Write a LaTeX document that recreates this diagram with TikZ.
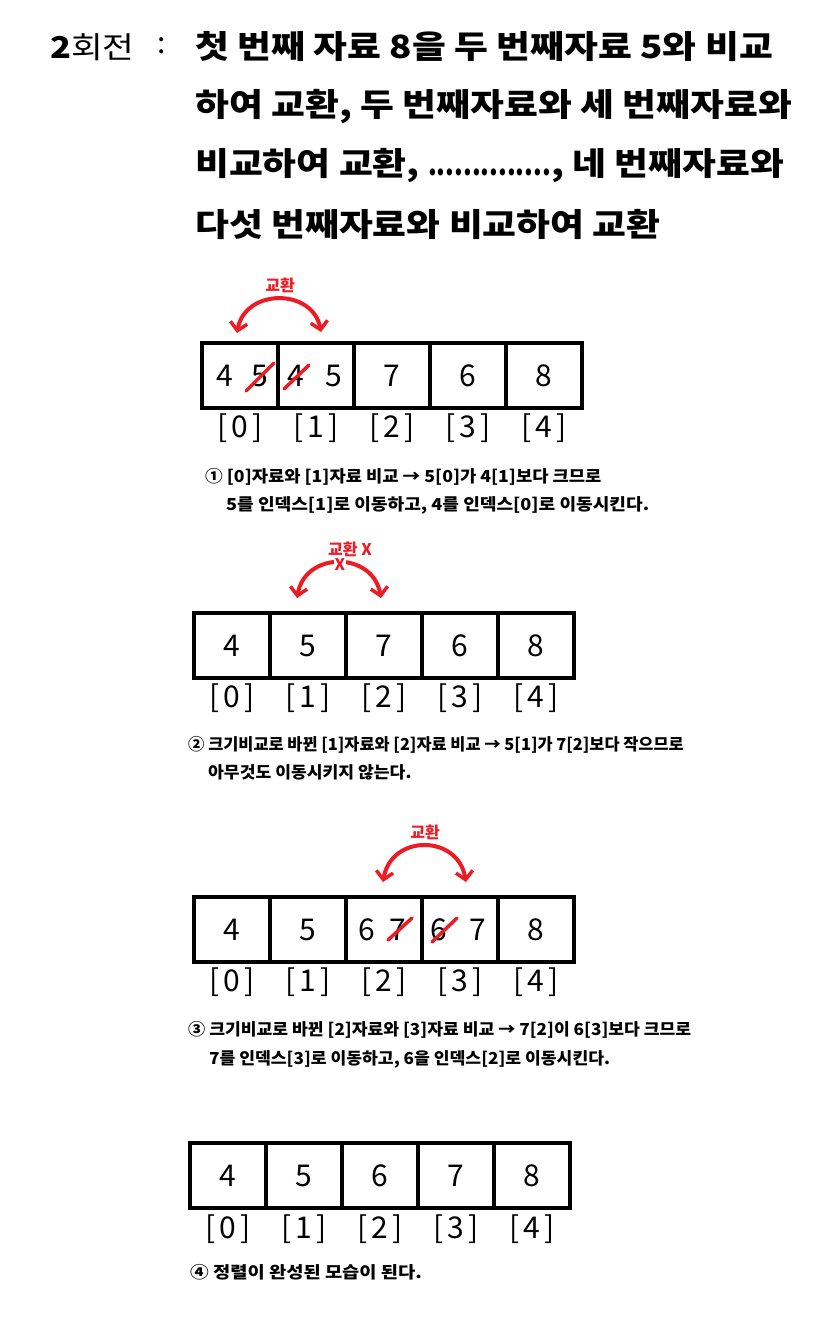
\documentclass[tikz,border=0pt]{standalone}
\usepackage{fontspec}
\setmainfont{Noto Sans CJK KR}
\newfontfamily\headfont[FakeStretch=1.15]{Noto Sans CJK KR}
\newfontfamily\notefont[FakeStretch=1.04]{Noto Sans CJK KR}
\usetikzlibrary{arrows.meta,calc}
\definecolor{swapred}{RGB}{237,28,36}
\tikzset{
  cell/.style={draw=black, line width=3.5pt, minimum width=76pt, minimum height=65pt,
    inner sep=0pt, outer sep=0pt, font=\fontsize{30}{30}\selectfont},
  digit/.style={inner sep=0pt, minimum width=26pt, minimum height=24pt,
    font=\fontsize{30}{30}\selectfont},
  idx/.style={inner sep=0pt, font=\fontsize{30}{30}\selectfont},
  strike/.style={draw=swapred, line width=3.5pt, line cap=round},
  barb/.tip={Straight Barb[length=8pt,width=17pt,line width=3.5pt]},
  swaparrow/.style={draw=swapred, line width=4pt, barb-barb},
  swaplabel/.style={text=swapred, inner sep=0.5pt, font=\bfseries\fontsize{16}{16}\selectfont},
  headline/.style={anchor=west, inner sep=0pt, font=\headfont\bfseries\fontsize{32}{32}\selectfont},
  note/.style={anchor=west, inner sep=0pt, font=\notefont\bfseries\fontsize{16.5}{17}\selectfont},
}
\newcommand{\idxtext}[1]{[\hspace{4.5pt}#1\hspace{4.5pt}]}
\begin{document}
\begin{tikzpicture}[x=1pt,y=-1pt]
\fill[white] (0,0) rectangle (814,1331);
\useasboundingbox (0,0) rectangle (814,1331);

% ---------- header ----------
\node[anchor=west, inner sep=0pt, font=\headfont\fontsize{30}{30}\selectfont] (round) at (50,47) {{\bfseries 2}회전};
\node[inner sep=0pt, font=\fontsize{30}{30}\selectfont] (colon) at (162,46) {:};
\node[headline] (h1) at (195,47) {첫 번째 자료 8을 두 번째자료 5와 비교};
\node[headline] (h2) at (195,107) {하여 교환, 두 번째자료와 세 번째자료와};
\node[headline] (h3) at (195,166) {비교하여 교환, \scalebox{0.68}[1]{..............}, 네 번째자료와};
\node[headline] (h4) at (195,224) {다섯 번째자료와 비교하여 교환};

% ---------- array 1 ----------
\foreach \i/\x/\v in {0/240/{},1/316/{},2/392/7,3/468/6,4/544/8}{
  \node[cell] (a1c\i) at (\x,375.5) {\v};
  \node[idx] (a1i\i) at (\x,428) {\idxtext{\i}};
}
\node[digit] (a1d0a) at (225,376) {4};
\node[digit] (a1d0b) at (260,376) {5};
\node[digit] (a1d1a) at (296,376) {4};
\node[digit] (a1d1b) at (334,376) {5};
\draw[strike] ($(a1d0b)+(-14,15)$) -- ($(a1d0b)+(14,-13)$);
\draw[strike] ($(a1d1a)+(-12,13)$) -- ($(a1d1a)+(13,-11)$);
\coordinate (s1l) at (237,333);
\coordinate (s1r) at (321,332);
\draw[swaparrow] (s1l) .. controls (245,288) and (313,288) .. (s1r);
\node[swaplabel] (t1) at (280,285) {교환};
\node[note] (n1a) at (205,477) {\scalebox{1.03}[1]{① [0]자료와 [1]자료 비교 → 5[0]가 4[1]보다 크므로}};
\node[note] (n1b) at (226,505) {\scalebox{1.055}[1]{5를 인덱스[1]로 이동하고, 4를 인덱스[0]로 이동시킨다.}};

% ---------- array 2 ----------
\foreach \i/\x/\v in {0/232/4,1/308/5,2/384/7,3/460/6,4/536/8}{
  \node[cell] (a2c\i) at (\x,645.5) {\v};
  \node[idx] (a2i\i) at (\x,698) {\idxtext{\i}};
}
\coordinate (s2l) at (297,598);
\coordinate (s2r) at (381,598);
\draw[swaparrow] (s2l) .. controls (305,551) and (373,551) .. (s2r);
\node[swaplabel, fill=white] (x2) at (340,565) {X};
\node[swaplabel] (t2) at (350,549) {교환 X};
\node[note] (n2a) at (188,745) {\scalebox{0.955}[1]{② 크기비교로 바뀐 [1]자료와 [2]자료 비교 → 5[1]가 7[2]보다 작으므로}};
\node[note] (n2b) at (208,772) {아무것도 이동시키지 않는다.};

% ---------- array 3 ----------
\foreach \i/\x/\v in {0/232/4,1/308/5,2/384/{},3/460/{},4/536/8}{
  \node[cell] (a3c\i) at (\x,929.5) {\v};
  \node[idx] (a3i\i) at (\x,982) {\idxtext{\i}};
}
\node[digit] (a3d2a) at (367,930) {6};
\node[digit] (a3d2b) at (398,930) {7};
\node[digit] (a3d3a) at (439,930) {6};
\node[digit] (a3d3b) at (478,930) {7};
\draw[strike] ($(a3d2b)+(-10,10)$) -- ($(a3d2b)+(14,-12)$);
\draw[strike] ($(a3d3a)+(-7,12)$) -- ($(a3d3a)+(18,-12)$);
\coordinate (s3l) at (383,882);
\coordinate (s3r) at (466,882);
\draw[swaparrow] (s3l) .. controls (391,834) and (458,834) .. (s3r);
\node[swaplabel] (t3) at (425,832) {교환};
\node[note] (n3a) at (188,1030) {③ 크기비교로 바뀐 [2]자료와 [3]자료 비교 → 7[2]이 6[3]보다 크므로};
\node[note] (n3b) at (209,1059) {7를 인덱스[3]로 이동하고, 6을 인덱스[2]로 이동시킨다.};

% ---------- array 4 ----------
\foreach \i/\x/\v in {0/228/4,1/304/5,2/380/6,3/456/7,4/532/8}{
  \node[cell] (a4c\i) at (\x,1175.5) {\v};
  \node[idx] (a4i\i) at (\x,1229) {\idxtext{\i}};
}
\node[note] (n4) at (190,1272) {\scalebox{1.09}[1]{④ 정렬이 완성된 모습이 된다.}};
\end{tikzpicture}
\end{document}
